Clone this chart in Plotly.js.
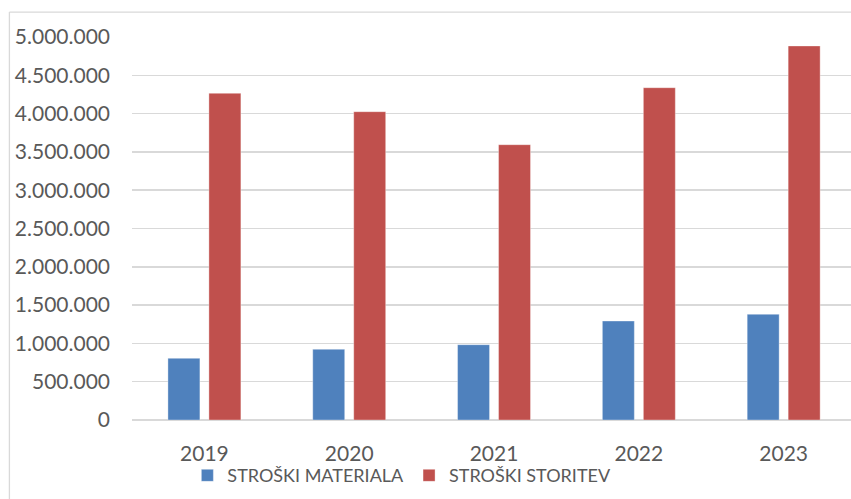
<!DOCTYPE html>
<html>
<head>
<meta charset="utf-8">
<script src="https://cdn.plot.ly/plotly-3.0.1.min.js"></script>
<style>html,body{margin:0;padding:0;background:#fff;}#chart{width:851px;height:499px;}</style>
</head>
<body>
<div id="chart"></div>
<script>
var years = ['2019', '2020', '2021', '2022', '2023'];
var seriesNames = ['STROŠKI MATERIALA', 'STROŠKI STORITEV'];
var materiala = [805000, 923000, 983000, 1292000, 1380000];
var storitev = [4265000, 4025000, 3594000, 4338000, 4883000];
var yTicks = [0, 500000, 1000000, 1500000, 2000000, 2500000, 3000000, 3500000, 4000000, 4500000, 5000000];

var fam = 'Lato, "Open Sans", sans-serif';
var tickFont = {family: fam, size: 21, color: '#595959'};
var legendFont = {family: fam, size: 18, color: '#595959'};

var traces = [
  {type: 'bar', name: seriesNames[0], x: years, y: materiala,
   marker: {color: '#4F81BD', line: {color: 'rgba(255,255,255,0.35)', width: 1}}},
  {type: 'bar', name: seriesNames[1], x: years, y: storitev,
   marker: {color: '#C0504D', line: {color: 'rgba(255,255,255,0.35)', width: 1}}}
];

var layout = {
  width: 851, height: 499,
  margin: {l: 132, r: 0, t: 37, b: 79, pad: 0},
  paper_bgcolor: '#ffffff', plot_bgcolor: '#ffffff',
  font: tickFont,
  separators: ',.',
  barmode: 'group',
  bargap: 0.434,
  bargroupgap: 0.22,
  showlegend: true,
  legend: {orientation: 'h', x: 0.077, xanchor: 'left', y: -0.097, yanchor: 'top',
           font: legendFont, bgcolor: 'rgba(0,0,0,0)', traceorder: 'normal'},
  xaxis: {type: 'category', range: [-0.5, 4.465], showgrid: false, zeroline: false,
          showline: false, ticks: '', ticklabelstandoff: 19, tickfont: tickFont, fixedrange: true},
  yaxis: {range: [0, 5000000], tickvals: yTicks, tickformat: ',d', showgrid: true,
          gridcolor: '#d9d9d9', gridwidth: 1.5, zeroline: true, zerolinecolor: '#d9d9d9', zerolinewidth: 1.5,
          showline: false, ticks: '', ticklabelstandoff: 21, tickfont: tickFont, fixedrange: true},
  shapes: [
    {type: 'line', xref: 'paper', yref: 'paper', x0: -0.1705, x1: -0.1705, y0: -0.3, y1: 1.065,
     line: {color: '#d9d9d9', width: 1.3}},
    {type: 'line', xref: 'paper', yref: 'paper', x0: -0.1705, x1: 1.05, y0: 1.065, y1: 1.065,
     line: {color: '#d9d9d9', width: 1.3}}
  ]
};

Plotly.newPlot('chart', traces, layout, {displayModeBar: false, staticPlot: true});
</script>
</body>
</html>
